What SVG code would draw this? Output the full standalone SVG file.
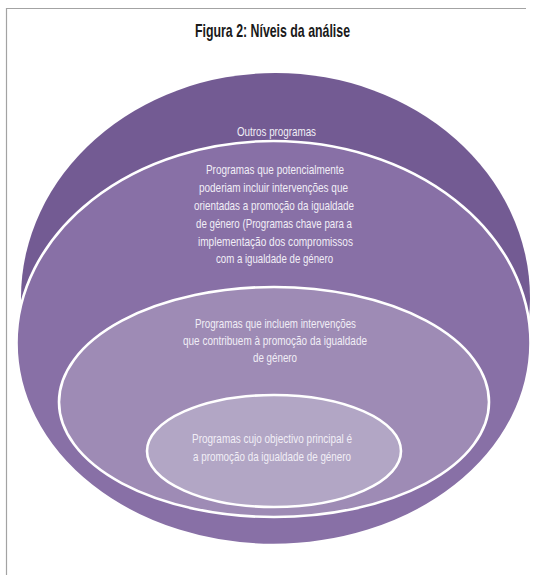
<svg xmlns="http://www.w3.org/2000/svg" width="533" height="575" viewBox="0 0 533 575">
<style>
.frame{stroke:#a3a3a3;stroke-width:1.2;fill:none}
.lvl{stroke:#ffffff;stroke-width:2.6}
.t{font-family:"Liberation Sans",Arial,sans-serif;font-size:13.5px;fill:#f1eef6;text-anchor:middle}
.title{font-family:"Liberation Sans",Arial,sans-serif;font-size:18.5px;font-weight:bold;fill:#1a1a1a;text-anchor:middle}
</style>
<rect x="0" y="0" width="533" height="575" fill="#ffffff"/>
<path class="frame" d="M6.5 575 V8.5 H526"/>
<text class="title" x="272.5" y="37" textLength="155" lengthAdjust="spacingAndGlyphs">Figura 2: Níveis da análise</text>
<g id="outros">
<ellipse cx="275.5" cy="298" rx="254.5" ry="225" fill="#735b93"/>
<text class="t" x="276.5" y="136" textLength="79" lengthAdjust="spacingAndGlyphs">Outros programas</text>
</g>
<g id="potenciais">
<ellipse class="lvl" cx="273.5" cy="343" rx="257" ry="202" fill="#8870a6"/>
<text class="t" x="275" y="174" textLength="138" lengthAdjust="spacingAndGlyphs">Programas que potencialmente</text>
<text class="t" x="273.5" y="192" textLength="149" lengthAdjust="spacingAndGlyphs">poderiam incluir intervenções que</text>
<text class="t" x="274" y="210" textLength="160" lengthAdjust="spacingAndGlyphs">orientadas a promoção da igualdade</text>
<text class="t" x="274" y="228" textLength="156" lengthAdjust="spacingAndGlyphs">de género (Programas chave para a</text>
<text class="t" x="275.5" y="245.5" textLength="155" lengthAdjust="spacingAndGlyphs">implementação  dos compromissos</text>
<text class="t" x="274.5" y="263" textLength="117" lengthAdjust="spacingAndGlyphs">com a igualdade de género</text>
</g>
<g id="contribuem">
<ellipse class="lvl" cx="274" cy="402" rx="215" ry="115" fill="#9e8bb5"/>
<text class="t" x="275.5" y="328" textLength="161" lengthAdjust="spacingAndGlyphs">Programas que incluem intervenções</text>
<text class="t" x="275" y="345" textLength="184" lengthAdjust="spacingAndGlyphs">que contribuem à promoção da igualdade</text>
<text class="t" x="275" y="362" textLength="44" lengthAdjust="spacingAndGlyphs">de género</text>
</g>
<g id="principal">
<ellipse class="lvl" cx="274" cy="451" rx="127" ry="56" fill="#b2a6c5"/>
<text class="t" x="272" y="443" textLength="160" lengthAdjust="spacingAndGlyphs">Programas cujo objectivo principal é</text>
<text class="t" x="272" y="461" textLength="158" lengthAdjust="spacingAndGlyphs">a promoção da igualdade de género</text>
</g>
<g id="connectors"/>
</svg>
